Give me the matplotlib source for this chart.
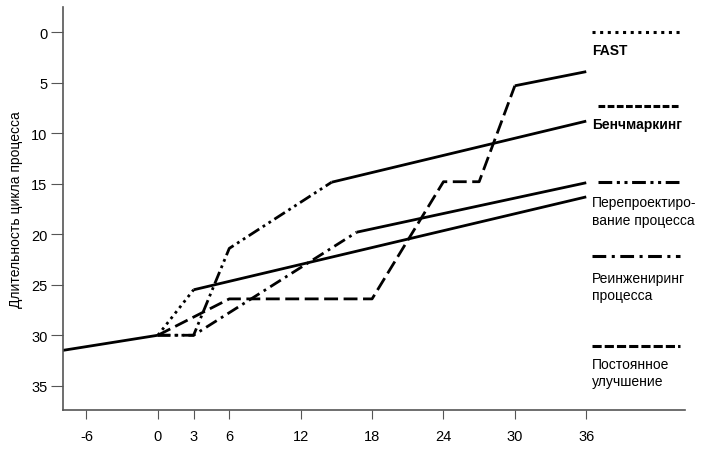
import matplotlib.pyplot as plt

plt.rcParams['font.family'] = ['Liberation Sans', 'DejaVu Sans']
plt.rcParams['axes.unicode_minus'] = False

# общий участок до начала улучшений
base_x = [-8, 0]
base_y = [31.5, 30]

# методы: переходный участок (пунктир) + последний отрезок сплошной
fast_x = [0, 3, 36]
fast_y = [30, 25.5, 16.3]
bench_x = [0, 6, 18, 24, 27, 30, 36]
bench_y = [30, 26.4, 26.4, 14.8, 14.8, 5.3, 3.9]
redesign_x = [0, 3, 6, 14.6, 36]
redesign_y = [30, 30, 21.4, 14.85, 8.8]
reeng_x = [0, 3, 16.7, 36]
reeng_y = [30, 30, 19.8, 14.9]

labels = ['FAST', 'Бенчмаркинг', 'Перепроектиро-\nвание процесса',
          'Реинжениринг\nпроцесса', 'Постоянное\nулучшение']
x_ticks = [-6, 0, 3, 6, 12, 18, 24, 30, 36]
y_ticks = [0, 5, 10, 15, 20, 25, 30, 35]

dotted = (0, (1, 1.5))
dashed = (0, (5, 2))
dash_dot = (0, (4.5, 1.8, 1, 1.8))
dash_dot_dot = (0, (4.5, 1.5, 1, 1.5, 1, 1.5))

fig = plt.figure(figsize=(7.1, 4.56), dpi=100)
ax = fig.add_axes([0.0883, 0.0987, 0.8765, 0.8838])

lw = 2.0
ax.plot(base_x, base_y, color='black', lw=lw, solid_capstyle='butt')

series = [(fast_x, fast_y, dotted), (bench_x, bench_y, dashed),
          (redesign_x, redesign_y, dash_dot_dot), (reeng_x, reeng_y, dash_dot)]
for xs, ys, ls in series:
    ax.plot(xs[:-1], ys[:-1], color='black', lw=lw, ls=ls)
    ax.plot(xs[-2:], ys[-2:], color='black', lw=lw, solid_capstyle='butt')

# подписи справа с образцами линий
sample_y = [0, 7.3, 14.8, 22.2, 31.05]
sample_x0 = [36.5, 37.0, 37.0, 36.5, 36.5]
text_y = [1.8, 9.1, 17.7, 25.2, 33.7]
sample_ls = [dotted, (0, (2.2, 0.8)), dash_dot_dot, dash_dot, (0, (3, 1))]
weights = ['bold', 'bold', 'normal', 'normal', 'normal']
for i, lab in enumerate(labels):
    ax.plot([sample_x0[i], 43.9], [sample_y[i], sample_y[i]], color='black',
            lw=2.2, ls=sample_ls[i])
    ax.text(36.5, text_y[i], lab, fontsize=10, fontweight=weights[i],
            va='center', ha='left', linespacing=1.3)

ax.set_xlim(-8, 44.3)
ax.set_ylim(37.4, -2.5)
ax.set_xticks(x_ticks)
ax.set_yticks(y_ticks)
ax.tick_params(axis='x', length=6.5, pad=7, color='#555555', labelsize=10.5)
ax.tick_params(axis='y', length=9, pad=2, color='#555555', labelsize=10.5)

for s in ['top', 'right']:
    ax.spines[s].set_visible(False)
for s in ['left', 'bottom']:
    ax.spines[s].set_color('#555555')
    ax.spines[s].set_linewidth(1.2)

ax.set_ylabel('Длительность цикла процесса', fontsize=10, labelpad=6)

fig.savefig('out.png', dpi=100)
